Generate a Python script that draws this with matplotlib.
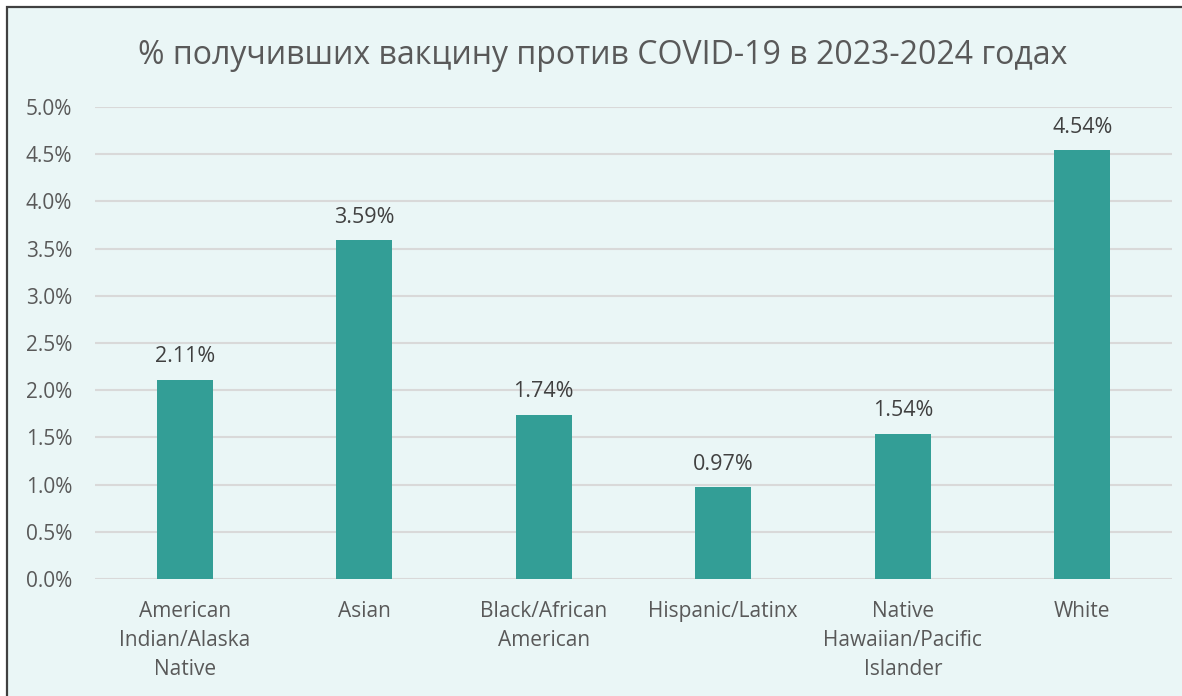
import matplotlib
matplotlib.use("Agg")
import matplotlib.pyplot as plt
from matplotlib.patches import Rectangle
from matplotlib.ticker import PercentFormatter

# ==============================================
title = "% получивших вакцину против COVID-19 в 2023-2024 годах"
categories = ["American\nIndian/Alaska\nNative", "Asian", "Black/African\nAmerican",
              "Hispanic/Latinx", "Native\nHawaiian/Pacific\nIslander", "White"]
values = [0.0211, 0.0359, 0.0174, 0.0097, 0.0154, 0.0454]
y_ticks = [0.0, 0.005, 0.01, 0.015, 0.02, 0.025, 0.03, 0.035, 0.04, 0.045, 0.05]

bar_color = "#339E96"
bg_color = "#EAF6F6"
text_color = "#595959"

plt.rcParams["font.family"] = ["Open Sans", "DejaVu Sans"]

# ==============================================
W, H = 1182, 696
fig = plt.figure(figsize=(W / 100, H / 100), dpi=100, facecolor="white")

# chart area with dark border (cropped on right/bottom)
fig.patches.append(Rectangle((7 / W, -0.05), 1.1, 1 - 7.5 / H + 0.05,
                             transform=fig.transFigure, facecolor=bg_color,
                             edgecolor="#404040", linewidth=1.6, zorder=-5))

ax = fig.add_axes([95 / W, 1 - 579 / H, (1172 - 95) / W, (579 - 107) / H])
ax.set_zorder(2)
ax.set_facecolor("none")

x = range(len(categories))
bars = ax.bar(x, values, width=0.31, color=bar_color, zorder=3)

for xi, v in zip(x, values):
    ax.annotate(f"{v * 100:.2f}%", (xi, v), xytext=(0, 9), textcoords="offset points",
                ha="center", va="bottom", fontsize=15.5, color="#404040")

ax.set_xlim(-0.5, len(categories) - 0.5)
ax.set_ylim(0, 0.05)
ax.set_yticks(y_ticks)
ax.yaxis.set_major_formatter(PercentFormatter(1.0, decimals=1))
ax.set_xticks(list(x), labels=categories)
ax.tick_params(axis="both", length=0, labelsize=15, labelcolor=text_color)
ax.tick_params(axis="y", pad=16.5)
ax.tick_params(axis="x", pad=15.5)
for lbl in ax.get_xticklabels():
    lbl.set_multialignment("center")
    lbl.set_linespacing(1.5)

ax.grid(axis="y", color="#D9D9D9", linewidth=1.5, zorder=0)
for s in ax.spines.values():
    s.set_visible(False)

fig.text(603 / W, 1 - 55 / H, title, ha="center", va="center", fontsize=23, color=text_color)

plt.savefig("out.png", dpi=100, facecolor="white")
